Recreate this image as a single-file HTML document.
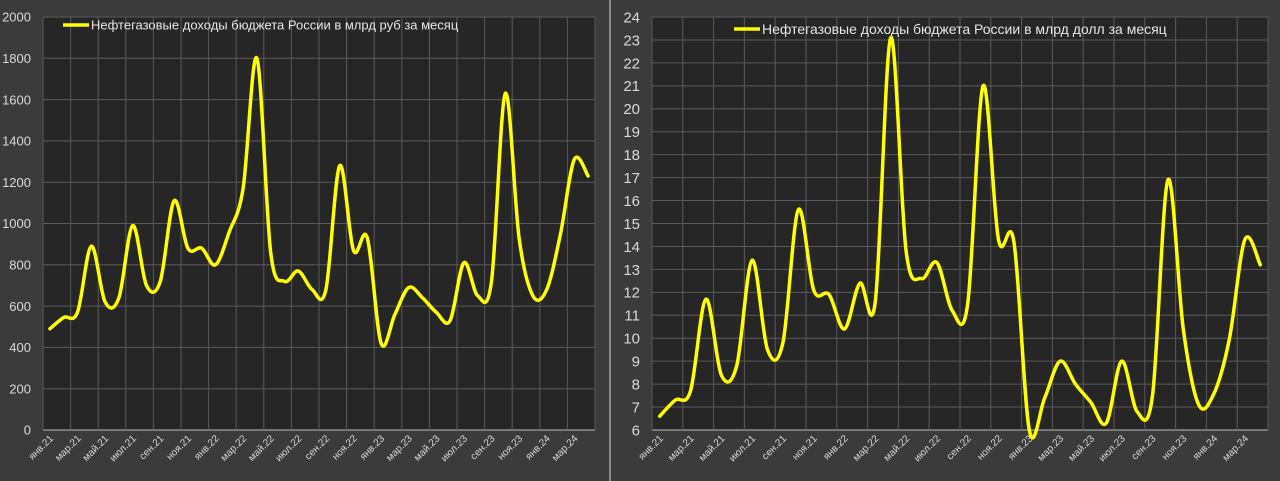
<!DOCTYPE html>
<html><head><meta charset="utf-8"><style>
html,body{margin:0;padding:0;background:#3b3b3b;}
svg{display:block;font-family:"Liberation Sans","DejaVu Sans",sans-serif;}
</style></head><body>
<svg id="c" width="1280" height="481" viewBox="0 0 1280 481">
<rect x="0" y="0" width="1280" height="481" fill="#3b3b3b"/>
<rect x="609" y="0" width="2" height="481" fill="#8a8a8a"/>
</svg>
<script>
const months = ["янв.21","фев.21","мар.21","апр.21","май.21","июн.21","июл.21","авг.21","сен.21","окт.21","ноя.21","дек.21",
"янв.22","фев.22","мар.22","апр.22","май.22","июн.22","июл.22","авг.22","сен.22","окт.22","ноя.22","дек.22",
"янв.23","фев.23","мар.23","апр.23","май.23","июн.23","июл.23","авг.23","сен.23","окт.23","ноя.23","дек.23",
"янв.24","фев.24","мар.24","апр.24"];
const rubValues = [490,545,570,890,620,640,990,700,720,1110,880,880,800,960,1170,1800,860,720,770,680,680,1280,870,930,420,560,690,640,570,530,810,650,720,1630,930,650,680,950,1310,1230];
const usdValues = [6.6,7.3,7.7,11.7,8.4,8.8,13.4,9.5,9.8,15.6,12.1,11.9,10.4,12.4,11.6,23.1,13.8,12.6,13.3,11.2,11.5,21.0,14.3,14.2,6.0,7.4,9.0,8.0,7.2,6.3,9.0,6.8,7.5,16.9,10.4,7.1,7.6,10.0,14.3,13.2];
const rubTicks = [0,200,400,600,800,1000,1200,1400,1600,1800,2000];
const usdTicks = [6,7,8,9,10,11,12,13,14,15,16,17,18,19,20,21,22,23,24];
const rubLegend = "Нефтегазовые доходы бюджета России в млрд руб за месяц";
const usdLegend = "Нефтегазовые доходы бюджета России в млрд долл за месяц";

const svg = document.getElementById('c');
const NS = "http://www.w3.org/2000/svg";
function mk(tag, attrs){const e=document.createElementNS(NS,tag);for(const k in attrs)e.setAttribute(k,attrs[k]);svg.appendChild(e);return e;}

function drawChart(o){
  const n = months.length;
  const step = (o.x1 - o.x0) / n;
  const xs = i => o.x0 + step*(i+0.5);
  const ys = v => o.yb - (v - o.vmin)/(o.vmax - o.vmin)*(o.yb - o.yt);
  const plot = mk('rect',{x:o.x0,y:o.yt,width:o.x1-o.x0,height:o.yb-o.yt,fill:'#262626'});
  
  
  o.ticks.forEach(t=>{
    const y = ys(t);
    const g = mk('line',{x1:o.x0,x2:o.x1,y1:y,y2:y,stroke:t===o.vmin?'#bfbfbf':'#5a5a5a','stroke-width':1});
    
    
    const tx = mk('text',{x:o.x0-o.lblGap,y:y+o.fs*0.36,'text-anchor':'end',fill:'#d9d9d9','font-size':o.fs});
    tx.textContent = t;
    
    
  });
  for(let i=0;i<=n;i+=2){
    const x = o.x0 + step*i;
    const g = mk('line',{x1:x,x2:x,y1:o.yt,y2:o.yb,stroke:'#5a5a5a','stroke-width':1});
    
    
  }
  for(let i=0;i<n;i+=2){
    const x = xs(i)+4, y = o.yb+9;
    const tx = mk('text',{x:x,y:y,'text-anchor':'end',fill:'#d9d9d9','font-size':10,transform:`rotate(-45 ${x} ${y})`});
    tx.textContent = months[i];
    
    
  }
  const pts = o.values.map((v,i)=>[xs(i),ys(v)]);
  let d = `M${pts[0][0]},${pts[0][1]}`;
  for(let i=0;i<pts.length-1;i++){
    const p0=pts[Math.max(0,i-1)],p1=pts[i],p2=pts[i+1],p3=pts[Math.min(pts.length-1,i+2)];
    const c1=[p1[0]+(p2[0]-p0[0])/6,p1[1]+(p2[1]-p0[1])/6];
    const c2=[p2[0]-(p3[0]-p1[0])/6,p2[1]-(p3[1]-p1[1])/6];
    d+=` C${c1[0]},${c1[1]} ${c2[0]},${c2[1]} ${p2[0]},${p2[1]}`;
  }
  const line = mk('path',{d:d,fill:'none',stroke:'#ffff00','stroke-width':3.5,'stroke-linejoin':'round','stroke-linecap':'round'});
  
  
  const ll = mk('line',{x1:o.legX,x2:o.legX+26,y1:o.legY,y2:o.legY,stroke:'#ffff00','stroke-width':3.5});
  
  
  const lt = mk('text',{x:o.legX+28,y:o.legY+o.legFs*0.36,fill:'#e6e6e6','font-size':o.legFs});
  lt.textContent = o.legend;
  
  
}
drawChart({pfx:'rub',x0:43,x1:595,yt:17,yb:430,vmin:0,vmax:2000,ticks:rubTicks,values:rubValues,fs:13,lblGap:12,legX:63,legY:25,legFs:13,legend:rubLegend});
drawChart({pfx:'usd',x0:652,x1:1268,yt:17,yb:430,vmin:6,vmax:24,ticks:usdTicks,values:usdValues,fs:15,lblGap:12,legX:734,legY:29,legFs:14,legend:usdLegend});
</script>
</body></html>
